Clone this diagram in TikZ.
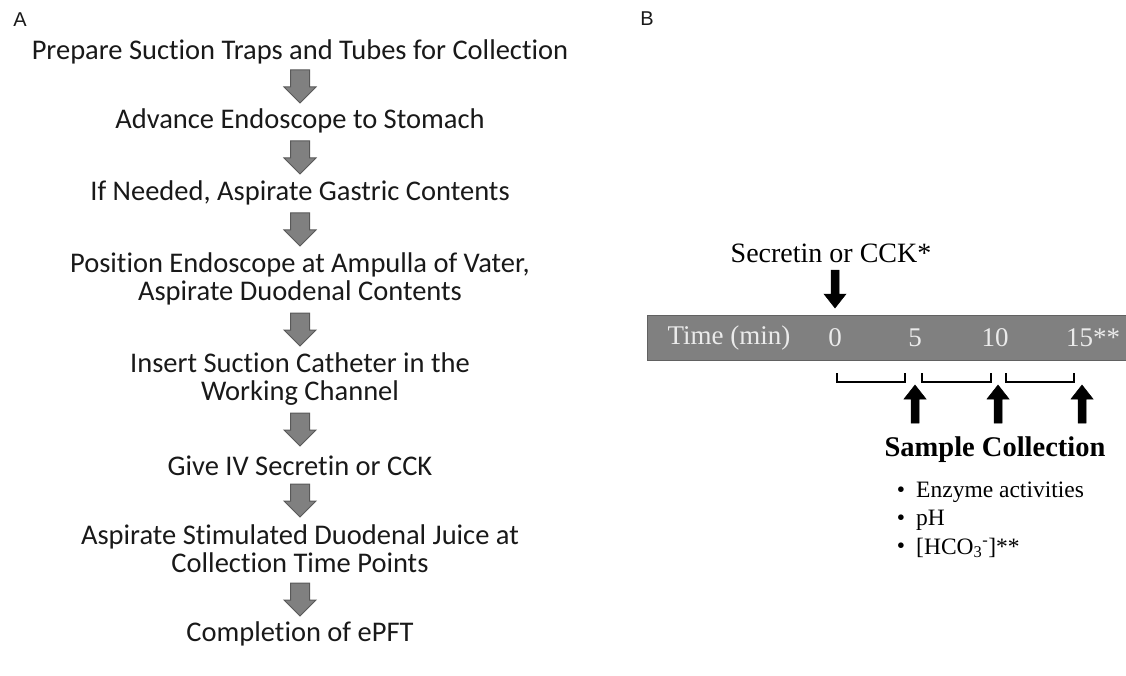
\documentclass[tikz,border=0pt]{standalone}
\usepackage{fontspec}
\setmainfont{Liberation Serif}
\newfontfamily\calfont[Ligatures=NoCommon]{Carlito}
\newfontfamily\arlfont{Liberation Sans}
\begin{document}
\begin{tikzpicture}[x=1pt,y=-1pt,
  stepbox/.style={font=\calfont\fontsize{28.5}{28}\selectfont, align=center, inner sep=0pt, text=black!90},
  lbl/.style={font=\arlfont\fontsize{20}{22}\selectfont, inner sep=0pt, text=black!90},
  garrow/.style={fill=black!50, draw=black!65, line width=1pt},
  barrow/.style={fill=black, draw=black, line width=0.5pt},
  tm/.style={font=\fontsize{27}{30}\selectfont, text=black!8, inner sep=0pt},
  bl/.style={font=\fontsize{23.5}{26}\selectfont, inner sep=0pt, anchor=west}]
\newcommand\blockarrow[7]{%
  \draw[#7] (#1-#4/2,#2) -- (#1+#4/2,#2) -- (#1+#4/2,#3-#6) -- (#1+#5/2,#3-#6) -- (#1,#3)
    -- (#1-#5/2,#3-#6) -- (#1-#4/2,#3-#6) -- cycle;}
\useasboundingbox (0,0) rectangle (1126,676);
% Panel A
\node[lbl] (A) at (20,20) {A};
\node[stepbox] (s1) at (300,52) {Prepare Suction Traps and Tubes for Collection};
\node[stepbox] (s2) at (300,121) {Advance Endoscope to Stomach};
\node[stepbox] (s3) at (300,193) {If Needed, Aspirate Gastric Contents};
\node[stepbox] (s4) at (300,279) {Position Endoscope at Ampulla of Vater,\\Aspirate Duodenal Contents};
\node[stepbox] (s5) at (300,379) {Insert Suction Catheter in the\\Working Channel};
\node[stepbox] (s6) at (300,466) {Give IV Secretin or CCK};
\node[stepbox] (s7) at (300,549) {Aspirate Stimulated Duodenal Juice at\\Collection Time Points};
\node[stepbox] (s8) at (300,634) {Completion of ePFT};
\blockarrow{300}{70}{103}{19}{32}{16}{garrow}
\blockarrow{300}{141}{174}{19}{32}{16}{garrow}
\blockarrow{300}{213}{246}{19}{32}{16}{garrow}
\blockarrow{300}{313}{346}{19}{32}{16}{garrow}
\blockarrow{300}{413}{446}{19}{32}{16}{garrow}
\blockarrow{300}{484}{517}{19}{32}{16}{garrow}
\blockarrow{300}{583}{616}{19}{32}{16}{garrow}
% Panel B
\node[lbl] (B) at (647,19) {B};
\node[font=\fontsize{28}{30}\selectfont, inner sep=0pt] (sec) at (831,253) {Secretin or CCK*};
\blockarrow{835}{270}{308}{8}{22}{14}{barrow}
\path[fill=black!50, draw=black!62, line width=1pt] (647,315) rectangle (1127,360);
\node[tm] (t) at (729,338) {Time (min)};
\node[tm] (t0) at (835,338) {0};
\node[tm] (t5) at (915,338) {5};
\node[tm] (t10) at (995,338) {10};
\node[tm] (t15) at (1093,338) {15**};
\draw[line width=1.6pt] (837,373) -- (837,382) -- (905,382) -- (905,373);
\draw[line width=1.6pt] (922,373) -- (922,382) -- (991,382) -- (991,373);
\draw[line width=1.6pt] (1006,373) -- (1006,382) -- (1074,382) -- (1074,373);
\blockarrow{915}{423}{385}{8}{22}{-14}{barrow}
\blockarrow{998}{423}{385}{8}{22}{-14}{barrow}
\blockarrow{1082}{423}{385}{8}{22}{-14}{barrow}
\node[font=\bfseries\fontsize{28.5}{30}\selectfont, inner sep=0pt] (sc) at (995,450) {Sample Collection};
\node[bl, anchor=center] (d1) at (901,492) {\textbullet};
\node[bl, anchor=center] (d2) at (901,520) {\textbullet};
\node[bl, anchor=center] (d3) at (901,548) {\textbullet};
\node[bl] (b1) at (916,492) {Enzyme activities};
\node[bl] (b2) at (916,520) {pH};
\node[bl] (b3) at (916,548) {[HCO\textsubscript{3}\textsuperscript{-}]**};
\end{tikzpicture}
\end{document}
